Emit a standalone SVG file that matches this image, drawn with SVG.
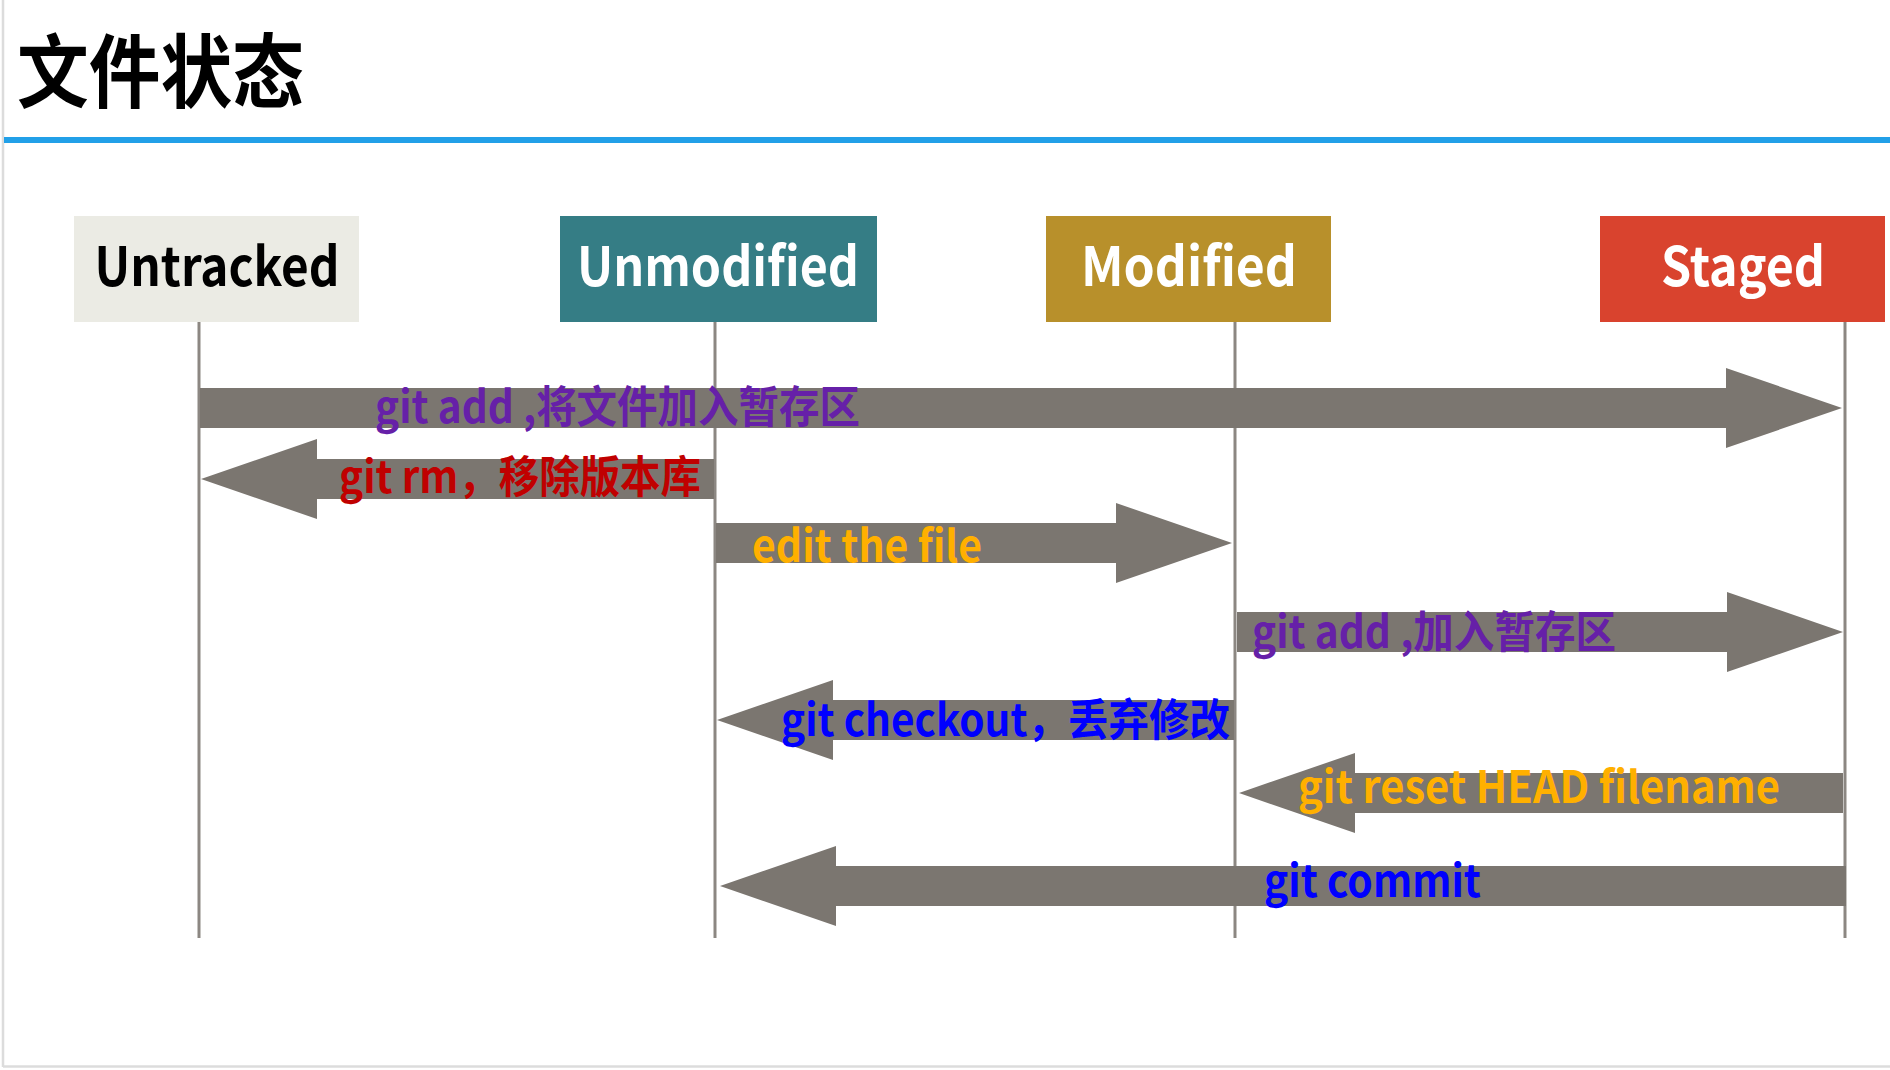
<svg xmlns="http://www.w3.org/2000/svg" width="1890" height="1070" viewBox="0 0 1890 1070">
<style>
  .t { font-family: "Noto Sans CJK SC", "Liberation Sans", sans-serif; font-weight: 700; }
  .hdr { font-size: 54px; text-anchor: middle; }
  .lbl { font-size: 44px; }
  .life { stroke: #8c8782; stroke-width: 3; fill: none; }
  .arrow { fill: #7b7670; }
  .purple { fill: #6620a8; }
  .red { fill: #c00000; }
  .orange { fill: #ffb000; }
  .blue { fill: #0000ff; }
</style>
<rect x="0" y="0" width="1890" height="1070" fill="#ffffff"/>
<g id="frame">
  <line x1="3" y1="0" x2="3" y2="1067" stroke="#dcdcdc" stroke-width="2.5"/>
  <line x1="3" y1="1066.5" x2="1890" y2="1066.5" stroke="#dcdcdc" stroke-width="2.5"/>
</g>
<g id="title">
  <text class="t" x="17" y="101" font-size="80" textLength="287" lengthAdjust="spacingAndGlyphs" fill="#000">文件状态</text>
  <rect x="4" y="137" width="1886" height="6" fill="#22a0e8"/>
</g>
<g id="node-untracked">
  <line class="life" x1="199" y1="322" x2="199" y2="938"/>
  <rect x="74" y="216" width="285" height="106" fill="#ebebe4"/>
  <text class="t hdr" x="217" y="286" textLength="245" lengthAdjust="spacingAndGlyphs" fill="#000">Untracked</text>
</g>
<g id="node-unmodified">
  <line class="life" x1="715" y1="322" x2="715" y2="938"/>
  <rect x="560" y="216" width="317" height="106" fill="#357d85"/>
  <text class="t hdr" x="718" y="286" textLength="282" lengthAdjust="spacingAndGlyphs" fill="#fff">Unmodified</text>
</g>
<g id="node-modified">
  <line class="life" x1="1235" y1="322" x2="1235" y2="938"/>
  <rect x="1046" y="216" width="285" height="106" fill="#b8902b"/>
  <text class="t hdr" x="1189" y="286" textLength="216" lengthAdjust="spacingAndGlyphs" fill="#fff">Modified</text>
</g>
<g id="node-staged">
  <line class="life" x1="1845" y1="322" x2="1845" y2="938"/>
  <rect x="1600" y="216" width="285" height="106" fill="#d9432e"/>
  <text class="t hdr" x="1743" y="286" textLength="164" lengthAdjust="spacingAndGlyphs" fill="#fff">Staged</text>
</g>
<g id="connectors">
  <polygon class="arrow" points="200,388 1726,388 1726,368 1842,408 1726,448 1726,428 200,428"/>
  <polygon class="arrow" points="714,459 317,459 317,439 201,479 317,519 317,499 714,499"/>
  <polygon class="arrow" points="716,523 1116,523 1116,503 1232,543 1116,583 1116,563 716,563"/>
  <polygon class="arrow" points="1237,612 1727,612 1727,592 1843,632 1727,672 1727,652 1237,652"/>
  <polygon class="arrow" points="1234,700 833,700 833,680 717,720 833,760 833,740 1234,740"/>
  <polygon class="arrow" points="1843,773 1355,773 1355,753 1239,793 1355,833 1355,813 1843,813"/>
  <polygon class="arrow" points="1846,866 836,866 836,846 720,886 836,926 836,906 1846,906"/>
  <text class="t lbl purple" x="375" y="423" textLength="485" lengthAdjust="spacingAndGlyphs">git add ,将文件加入暂存区</text>
  <text class="t lbl red" x="339" y="493" textLength="362" lengthAdjust="spacingAndGlyphs">git rm，移除版本库</text>
  <text class="t lbl orange" x="752" y="562" textLength="230" lengthAdjust="spacingAndGlyphs">edit the file</text>
  <text class="t lbl purple" x="1252" y="648" textLength="364" lengthAdjust="spacingAndGlyphs">git add ,加入暂存区</text>
  <text class="t lbl blue" x="781" y="736" textLength="449" lengthAdjust="spacingAndGlyphs">git checkout，丢弃修改</text>
  <text class="t lbl orange" x="1298" y="803" textLength="482" lengthAdjust="spacingAndGlyphs">git reset HEAD filename</text>
  <text class="t lbl blue" x="1264" y="897" textLength="217" lengthAdjust="spacingAndGlyphs">git commit</text>
</g>
</svg>
